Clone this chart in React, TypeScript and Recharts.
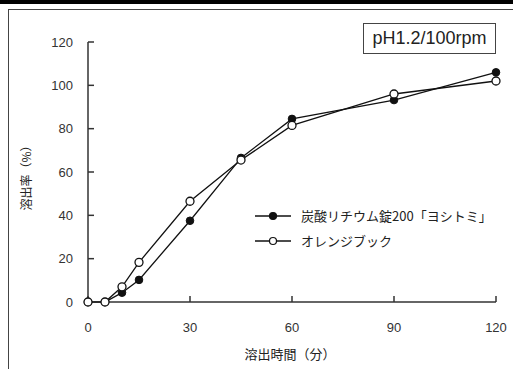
import { LineChart, Line, XAxis, YAxis, Customized } from "recharts";

// 溶出試験 pH1.2 / 100rpm
const times = [0, 5, 10, 15, 30, 45, 60, 90, 120];
const yoshitomi = [0, 0, 4.3, 10.2, 37.5, 66.5, 84.5, 93.2, 106];
const orangeBook = [0, 0, 7, 18.3, 46.5, 65.5, 81.5, 96, 102];
const xTicks = [0, 30, 60, 90, 120];
const yTicks = [0, 20, 40, 60, 80, 100, 120];

const seriesNames = ["炭酸リチウム錠200「ヨシトミ」", "オレンジブック"];

const data = times.map((t, i) => ({
  time: t,
  a: yoshitomi[i],
  b: orangeBook[i],
}));

const JP = '"Noto Sans CJK JP", "Liberation Sans", sans-serif';
const NUM = '"Liberation Sans", Arial, sans-serif';
const AXIS = "#333";

const LegendBox = () => (
  <div style={{ position: "absolute", left: 255, top: 203, fontFamily: JP, fontSize: 13, color: "#222" }}>
    {seriesNames.map((name, i) => (
      <div key={name} style={{ display: "flex", alignItems: "center", height: 25 }}>
        <svg width={40} height={12} style={{ marginRight: 6 }}>
          <line x1={0} x2={36} y1={6} y2={6} stroke="#111" strokeWidth={1.3} />
          <circle
            cx={18}
            cy={6}
            r={3.5}
            fill={i === 0 ? "#111" : "#fff"}
            stroke="#111"
            strokeWidth={1.2}
          />
        </svg>
        <span>{name}</span>
      </div>
    ))}
  </div>
);

const AxisTitles = () => (
  <g>
    <text
      x={290}
      y={359}
      textAnchor="middle"
      fontFamily={JP}
      fontSize={13}
      fill="#222"
    >
      溶出時間（分）
    </text>
    <text
      x={31}
      y={175}
      textAnchor="middle"
      transform="rotate(-90 31 175)"
      fontFamily={JP}
      fontSize={12}
      fill="#222"
    >
      溶出率（%）
    </text>
  </g>
);

export default function App() {
  return (
    <div style={{ position: "absolute", left: 0, top: 0, width: 513, height: 369, background: "#fff" }}>
      {/* frame lines of the source figure */}
      <div style={{ position: "absolute", left: 0, top: 0, width: 513, height: 4, background: "#000" }} />
      <div style={{ position: "absolute", left: 8, top: 9, width: 505, height: 0, borderTop: "1.5px solid #444" }} />
      <div style={{ position: "absolute", left: 8, top: 9, width: 0, height: 360, borderLeft: "1.5px solid #444" }} />
      <div
        style={{
          position: "absolute",
          left: 363,
          top: 23,
          width: 131,
          height: 29,
          border: "1.3px solid #444",
          fontFamily: NUM,
          fontSize: 18,
          color: "#222",
          lineHeight: "29px",
          textAlign: "center",
        }}
      >
        pH1.2/100rpm
      </div>
      <LineChart
        width={513}
        height={369}
        data={data}
        margin={{ top: 42, right: 17, bottom: 37, left: 0 }}
        style={{ position: "absolute", left: 0, top: 0 }}
      >
        <XAxis
          dataKey="time"
          type="number"
          domain={[0, 120]}
          ticks={xTicks}
          height={30}
          stroke={AXIS}
          strokeWidth={1.5}
          tickSize={-6}
          tickMargin={27}
          tick={{ fontFamily: NUM, fontSize: 13, fill: "#333" }}
        />
        <YAxis
          type="number"
          domain={[0, 120]}
          ticks={yTicks}
          width={88}
          stroke={AXIS}
          strokeWidth={1.5}
          tickSize={-6}
          tickMargin={21}
          tick={{ fontFamily: NUM, fontSize: 13, fill: "#333" }}
        />
        <Line
          dataKey="a"
          name={seriesNames[0]}
          stroke="#111"
          strokeWidth={1.3}
          isAnimationActive={false}
          dot={{ r: 3.8, fill: "#111", stroke: "#111", strokeWidth: 1 }}
        />
        <Line
          dataKey="b"
          name={seriesNames[1]}
          stroke="#111"
          strokeWidth={1.3}
          isAnimationActive={false}
          dot={{ r: 4, fill: "#fff", stroke: "#111", strokeWidth: 1.3 }}
        />
        <Customized component={AxisTitles} />
      </LineChart>
      <LegendBox />
    </div>
  );
}
